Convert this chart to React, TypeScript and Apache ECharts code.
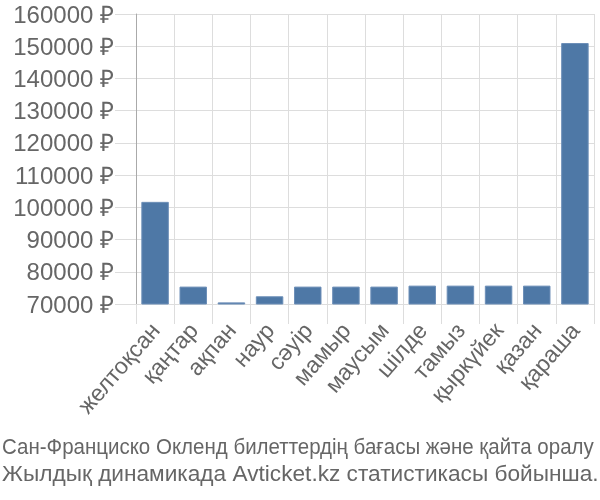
import React, { useEffect, useRef } from "react";
import * as echarts from "echarts";

const categories = ["желтоқсан", "қаңтар", "ақпан", "наур", "сәуір", "мамыр", "маусым", "шілде", "тамыз", "қыркүйек", "қазан", "қараша"];
const prices = [101700, 75400, 70500, 72400, 75400, 75400, 75400, 75700, 75700, 75700, 75700, 151000];
const yMin = 70000;
const yMax = 160000;
const yStep = 10000;
const currency = "₽";
const titleLines = [
  "Сан-Франциско Окленд билеттердің бағасы және қайта оралу",
  "Жылдық динамикада Avticket.kz статистикасы бойынша.",
];
const titleScales = [0.932, 1.03];

export default function App() {
  const ref = useRef<HTMLDivElement>(null);
  useEffect(() => {
    if (!ref.current) return;
    const chart = echarts.init(ref.current, null, { renderer: "svg" });
    const font = "'Liberation Sans', Arial, sans-serif";
    chart.setOption({
      animation: false,
      grid: { left: 136, right: 6, top: 14, bottom: 196, containLabel: false },
      graphic: titleLines.map((t, i) => ({
        type: "text",
        x: 2,
        y: 436 + i * 27,
        scaleX: titleScales[i],
        style: { text: t, fontSize: 22, fill: "#666", fontFamily: font, verticalAlign: "top", align: "left" },
      })),
      xAxis: {
        type: "category",
        data: categories,
        axisLine: { show: false },
        axisTick: { show: true, length: 20, interval: 0, lineStyle: { color: "#ddd" } },
        splitLine: { show: true, interval: 0, lineStyle: { color: "#ddd" } },
        axisLabel: { rotate: 49, interval: 0, fontSize: 23, color: "#666", fontFamily: font, margin: 22 },
      },
      yAxis: {
        type: "value",
        min: yMin,
        max: yMax,
        interval: yStep,
        axisLine: { show: true, lineStyle: { color: "#aaa" } },
        axisTick: { show: true, length: 21, lineStyle: { color: "#ddd" } },
        splitLine: { show: true, lineStyle: { color: "#ddd" } },
        axisLabel: {
          fontSize: 24,
          color: "#666",
          fontFamily: font,
          margin: 22,
          formatter: (v: number) => `${v} ${currency}`,
        },
      },
      series: [
        {
          type: "bar",
          data: prices,
          barCategoryGap: "28%",
          itemStyle: { color: "#4e78a6", borderColor: "#6d8fb8", borderWidth: 1 },
        },
      ],
    });
    return () => chart.dispose();
  }, []);
  return <div ref={ref} style={{ position: "fixed", left: 0, top: 0, width: 600, height: 500 }} />;
}
